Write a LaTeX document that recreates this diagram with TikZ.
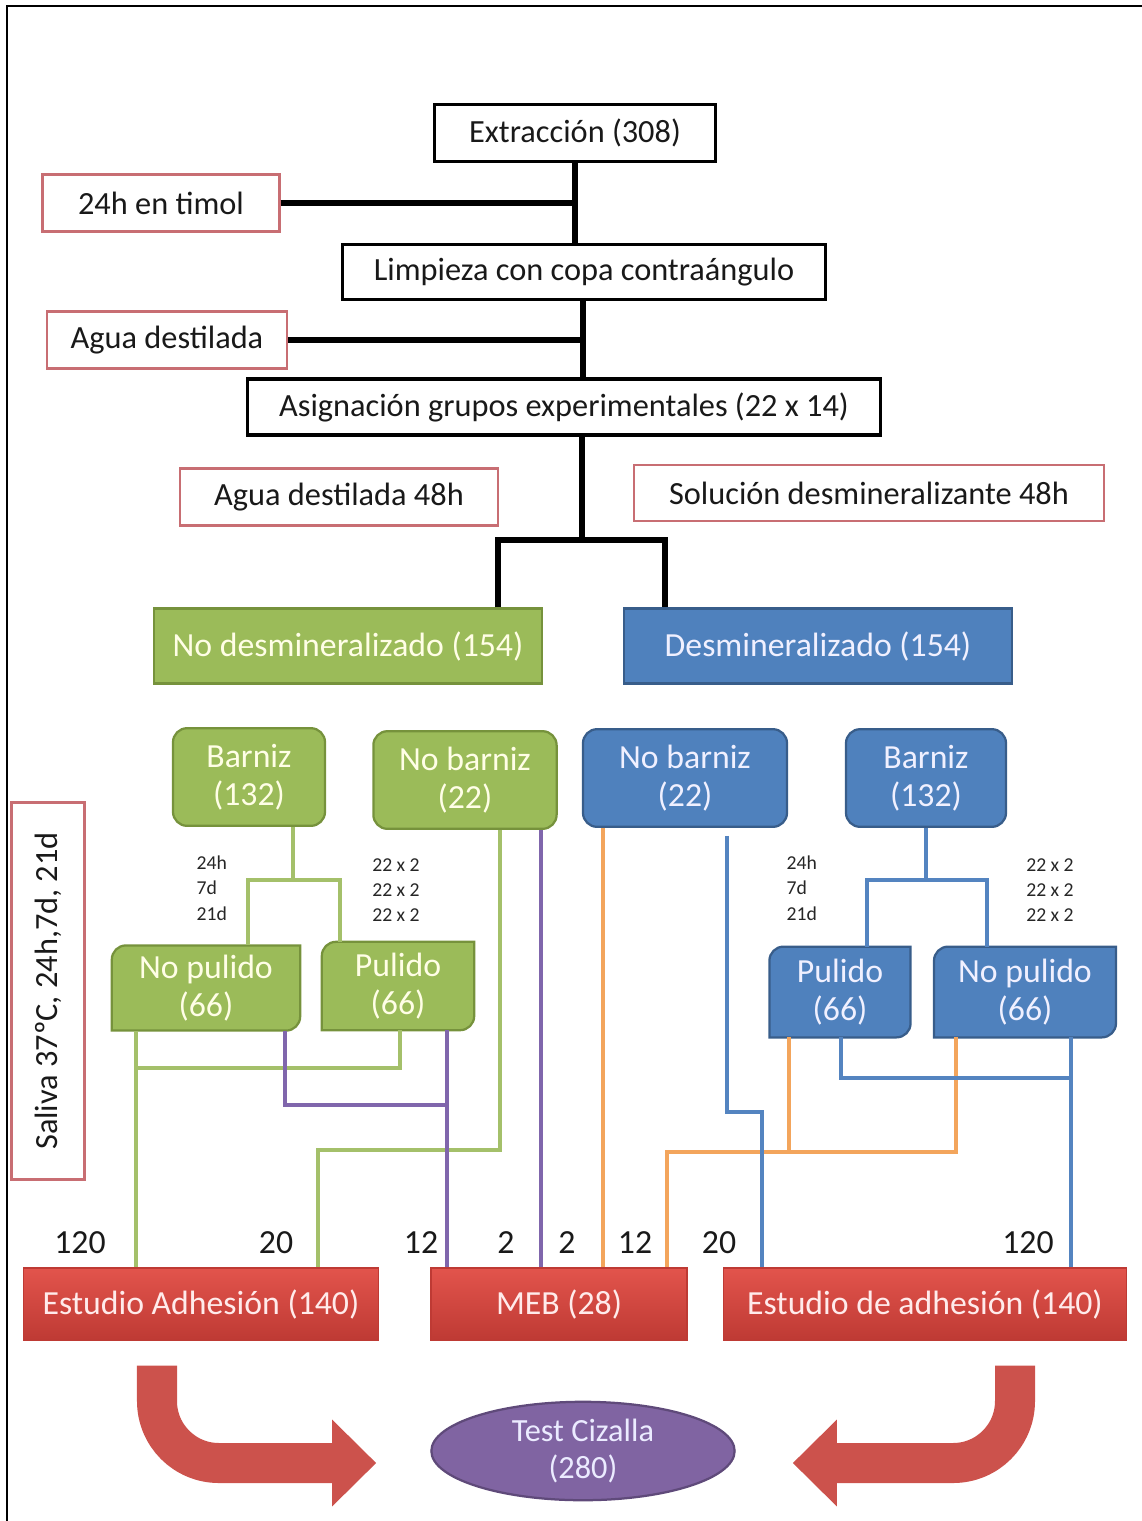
\documentclass[tikz,border=0pt]{standalone}
\usepackage{fontspec}
\setmainfont{Carlito}
\usetikzlibrary{calc,arrows.meta,positioning,backgrounds,shapes.geometric}
\definecolor{grassfill}{RGB}{155,187,89}
\definecolor{grassdraw}{RGB}{118,146,60}
\definecolor{skyfill}{RGB}{79,129,189}
\definecolor{skydraw}{RGB}{56,93,138}
\definecolor{plumfill}{RGB}{128,100,162}
\definecolor{plumdraw}{RGB}{95,74,122}
\definecolor{redtop}{RGB}{226,84,76}
\definecolor{redbot}{RGB}{190,58,52}
\definecolor{notered}{RGB}{200,110,115}
\definecolor{lgreen}{RGB}{164,192,106}
\definecolor{lpurple}{RGB}{128,102,172}
\definecolor{lorange}{RGB}{243,165,92}
\definecolor{lblue}{RGB}{84,132,192}
\definecolor{arrred}{RGB}{204,82,76}
\tikzset{
  blackbox/.style={rectangle, draw=black, line width=1.1pt, fill=white,
                   minimum height=0.71cm, inner sep=0pt, text=black!90,
                   font=\fontsize{11.5}{13}\selectfont},
  notebox/.style ={rectangle, draw=notered, line width=0.9pt, fill=white,
                   minimum height=0.71cm, inner sep=0pt, text=black!90,
                   font=\fontsize{11.5}{13}\selectfont},
  grbox/.style   ={rectangle, draw=grassdraw, fill=grassfill, line width=0.8pt,
                   minimum height=0.94cm, inner sep=0pt, text=white!90!yellow,
                   font=\fontsize{12}{14}\selectfont},
  blbox/.style   ={grbox, draw=skydraw, fill=skyfill, text=white!94!blue},
  grround/.style ={grbox, rounded corners=5pt, align=center, minimum height=1.22cm,
                   font=\fontsize{12}{13.5}\selectfont},
  blround/.style ={grround, draw=skydraw, fill=skyfill, text=white!94!blue},
  grdiag/.style  ={rectangle, inner sep=0pt, align=center, text=white!90!yellow,
                   font=\fontsize{12}{13.5}\selectfont},
  bldiag/.style  ={grdiag, text=white!94!blue},
  grdiagfill/.style={draw=grassdraw, fill=grassfill, line width=0.8pt},
  bldiagfill/.style={draw=skydraw, fill=skyfill, line width=0.8pt},
  redbox/.style  ={rectangle, draw=redbot, top color=redtop, bottom color=redbot,
                   minimum height=0.9cm, inner sep=0pt, text=white!92!red,
                   font=\fontsize{12}{14}\selectfont},
  ovalbox/.style ={ellipse, draw=plumdraw, fill=plumfill, line width=0.8pt,
                   minimum width=3.79cm, minimum height=1.23cm, inner sep=0pt,
                   align=center, text=white!92!blue, font=\fontsize{11.5}{13.5}\selectfont},
  kline/.style   ={line width=1.8pt, black},
  gline/.style   ={line width=1.4pt, lgreen},
  pline/.style   ={line width=1.4pt, lpurple},
  oline/.style   ={line width=1.4pt, lorange},
  bline/.style   ={line width=1.4pt, lblue},
  numlab/.style  ={inner sep=0pt, text=black!90, font=\fontsize{12}{14}\selectfont},
  smalllab/.style={inner sep=0pt, align=left, text=black!85,
                   font=\fontsize{7}{9}\selectfont},
  bigarr/.style  ={line width=0.5cm, arrred, rounded corners=22pt,
                   -{Triangle[length=0.55cm, width=1.05cm]}},
  frame/.style   ={line width=1pt, black},
}
% rectangle with two rounded corners on the diagonal
\newcommand{\diagshape}[2]{%
  \path[#2] ([xshift=5pt]#1.north west) -- (#1.north east) -- ([yshift=5pt]#1.south east)
    arc[start angle=0, end angle=-90, radius=5pt] -- (#1.south west)
    -- ([yshift=-5pt]#1.north west) arc[start angle=180, end angle=90, radius=5pt] -- cycle;}

\begin{document}
\begin{tikzpicture}[x=0.0125cm, y=-0.0125cm]
  \useasboundingbox (0,0) rectangle (1142,1521);
  \draw[frame] (7,1521) -- (7,6) -- (1142,6);

  % ---- preparation ---------------------------------------------------------
  \node[blackbox, minimum width=3.52cm] (extr) at (575,133) {Extracción (308)};
  \node[blackbox, minimum width=6.04cm, minimum height=0.69cm] (limp) at (584,272)
    {Limpieza con copa contraángulo};
  \node[blackbox, minimum width=7.91cm, minimum height=0.70cm] (asig) at (564,407)
    {Asignación grupos experimentales (22 x 14)};
  \node[notebox, minimum width=2.96cm] (timol) at (161,203) {24h en timol};
  \node[notebox, minimum width=3.0cm] (agua) at (167,340) {Agua destilada};
  \node[notebox, minimum width=3.97cm] (agua48) at (339,497) {Agua destilada 48h};
  \node[notebox, minimum width=5.87cm, minimum height=0.70cm] (solu) at (869,493)
    {Solución desmineralizante 48h};
  \node[notebox, rotate=90, minimum width=4.71cm, minimum height=0.91cm] (saliva) at (48,991)
    {Saliva 37ºC, 24h,7d, 21d};

  \draw[kline] (extr.south) -- (extr.south |- limp.north);
  \draw[kline] (timol.east) -- (timol.east -| extr.south);
  \draw[kline] (limp.south -| 583,0) -- (583,0 |- asig.north);
  \draw[kline] (agua.east) -- (agua.east -| 583,0);

  % ---- two groups ----------------------------------------------------------
  \node[grbox, minimum width=4.85cm] (noDem) at (348,646) {No desmineralizado (154)};
  \node[blbox, minimum width=4.84cm] (dem) at (818,646) {Desmineralizado (154)};

  \coordinate (split) at (582,540);
  \draw[kline] (asig.south -| split) -- (split);
  \draw[kline] ($(noDem.north)+(150,0)$) |- (split) -| ($(dem.north)+(-153,0)$);

  % ---- varnish / no varnish ------------------------------------------------
  \node[grround, minimum width=1.9cm] (gB) at (249,777) {Barniz\\(132)};
  \node[grround, minimum width=2.29cm] (gNB) at (465,780) {No barniz\\(22)};
  \node[blround, minimum width=2.55cm] (bNB) at (685,778) {No barniz\\(22)};
  \node[blround, minimum width=2.0cm] (bB) at (926,778) {Barniz\\(132)};

  % ---- polished / not polished ---------------------------------------------
  \node[grdiag, minimum width=2.34cm, minimum height=1.05cm] (gNP) at (206,988) {No pulido\\(66)};
  \node[grdiag, minimum width=1.89cm, minimum height=1.09cm] (gP) at (398,986) {Pulido\\(66)};
  \node[bldiag, minimum width=1.75cm, minimum height=1.12cm] (bP) at (840,992) {Pulido\\(66)};
  \node[bldiag, minimum width=2.26cm, minimum height=1.12cm] (bNP) at (1025,992) {No pulido\\(66)};
  \begin{scope}[on background layer]
    \diagshape{gNP}{grdiagfill}
    \diagshape{gP}{grdiagfill}
    \diagshape{bP}{bldiagfill}
    \diagshape{bNP}{bldiagfill}
  \end{scope}

  \node[smalllab, anchor=west] (gtime) at (196,888) {24h\\7d\\21d};
  \node[smalllab] (gcount) at (396,890) {22 x 2\\22 x 2\\22 x 2};
  \node[smalllab, anchor=west] (btime) at (786,888) {24h\\7d\\21d};
  \node[smalllab] (bcount) at (1050,890) {22 x 2\\22 x 2\\22 x 2};

  \coordinate (gfork) at (293,880);
  \draw[gline] (gB.south -| gfork) -- (gfork);
  \draw[gline] ($(gNP.north)+(42,0)$) |- (gfork) -| ($(gP.north)+(-58,0)$);
  \coordinate (bfork) at (926,880);
  \draw[bline] (bB.south) -- (bfork);
  \draw[bline] ($(bP.north)+(27,0)$) |- (bfork) -| ($(bNP.north)+(-38,0)$);

  % ---- studies -------------------------------------------------------------
  \node[redbox, minimum width=4.44cm] (adhA) at (201,1304) {Estudio Adhesión (140)};
  \node[redbox, minimum width=3.2cm] (meb) at (559,1304) {MEB (28)};
  \node[redbox, minimum width=5.04cm] (adhB) at (925,1304) {Estudio de adhesión (140)};
  \node[ovalbox] (test) at (583,1451) {Test Cizalla\\(280)};

  \node[numlab] (n1) at (80,1243) {120};
  \node[numlab] (n2) at (276,1243) {20};
  \node[numlab] (n3) at (421,1243) {12};
  \node[numlab] (n4) at (506,1243) {2};
  \node[numlab] (n5) at (567,1243) {2};
  \node[numlab] (n6) at (635,1243) {12};
  \node[numlab] (n7) at (719,1243) {20};
  \node[numlab] (n8) at (1028,1243) {120};

  % green lanes
  \coordinate (gJa) at (136,1068);
  \coordinate (gJb) at (400,1068);
  \coordinate (gKa) at (500,1150);
  \coordinate (gKb) at (318,1150);
  \draw[gline] (gNP.south -| gJa) -- (gJa |- adhA.north);
  \draw[gline] (gP.south -| gJb) -- (gJb) -- (gJa);
  \draw[gline] (gNB.south -| gKa) -- (gKa) -- (gKb) -- (gKb |- adhA.north);
  % purple lanes
  \coordinate (pJa) at (285,1105);
  \coordinate (pJb) at (447,1105);
  \coordinate (pK) at (541,1200);
  \draw[pline] (gNP.south -| pJa) -- (pJa) -- (pJb);
  \draw[pline] (gP.south -| pJb) -- (pJb |- meb.north);
  \draw[pline] (gNB.south -| pK) -- (pK |- meb.north);
  % orange lanes
  \coordinate (oK) at (603,1200);
  \coordinate (oJa) at (789,1152);
  \coordinate (oJb) at (956,1152);
  \coordinate (oJc) at (667,1152);
  \draw[oline] (bNB.south -| oK) -- (oK |- meb.north);
  \draw[oline] (bP.south -| oJa) -- (oJa);
  \draw[oline] (bNP.south -| oJb) -- (oJb) -- (oJc) -- (oJc |- meb.north);
  % blue lanes
  \coordinate (bJa) at (727,1112);
  \coordinate (bJb) at (762,1112);
  \coordinate (bKa) at (841,1078);
  \coordinate (bKb) at (1071,1078);
  \draw[bline] ($(bNB.south -| bJa)+(0,8)$) -- (bJa) -- (bJb) -- (bJb |- adhB.north);
  \draw[bline] (bP.south -| bKa) -- (bKa) -- (bKb);
  \draw[bline] (bNP.south -| bKb) -- (bKb |- adhB.north);

  % ---- to the shear test ---------------------------------------------------
  \draw[bigarr] ($(adhA.south)+(-44,25)$) |- ($(test.west)+(-54,12)$);
  \draw[bigarr] ($(adhB.south)+(90,25)$) |- ($(test.east)+(57,12)$);
\end{tikzpicture}
\end{document}
